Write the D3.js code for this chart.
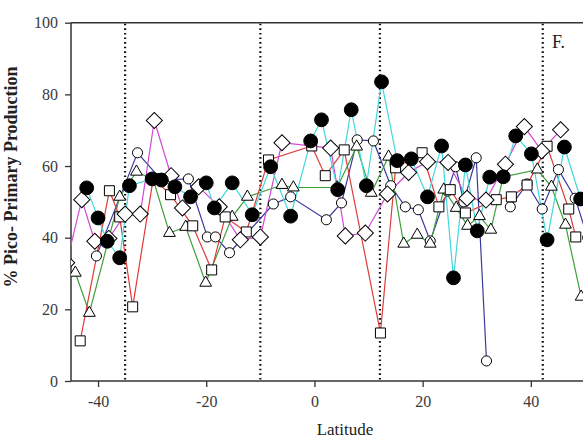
<!DOCTYPE html>
<html>
<head>
<meta charset="utf-8">
<script src="https://cdn.jsdelivr.net/npm/d3@7"></script>
<style>
  html, body { margin: 0; padding: 0; background: #fff; }
  svg { display: block; }
  text { font-family: "Liberation Serif", "Times New Roman", serif; }
</style>
</head>
<body>
<svg id="chart" width="583" height="439"></svg>
<script>
// Percent of primary production from picoplankton along the latitudinal transect.
// Each series: [latitude, % pico]; null marks a break in the line.
const filledCircles = [[-42.1,53.9],[-40,45.5],[-38.3,39],[-36,34.4],[-34.2,54.5],[-30,56.4],[-28.3,56.1],[-25.8,54.2],[-22.9,51.4],[-20,55.3],[-18.5,48.3],[-15.2,55.3],[-11.5,46.4],[-8.1,59.8],[-4.4,46],[-0.7,67],[1.3,72.9],[4.3,53.4],[6.8,75.7],[9.6,54.5],[12.4,83.5],[15.3,61.5],[17.9,62],[20.9,51.4],[23.5,65.6],[25.7,28.8],[27.9,60.3],[30.1,41.9],[32.4,56.9],[34.9,57],[37.2,68.4],[40.1,63.4],[43,39.4],[46.2,65.3],[49.2,50.8]];
const openDiamonds = [[-45.8,33],[-43,50.6],[-40.6,39],[-38,39.8],[-35,46.6],[-32.2,46.6],[-29.6,72.7],[-26.5,57.3],[-24.4,48.3],[-21.4,54.2],[-17.6,48.6],[-13.7,39.4],[-10,40.2],[-6,66.5],[3,65],[5.7,40.5],[9.4,41.3],[13.5,52.2],[17.4,58.2],[20.9,61.2],[24.7,61],[28.2,51],[31.7,50.5],[35.3,60.5],[38.8,71],[42,64.2],[45.5,70.1]];
const openSquares = [[-43.3,11.2],[-37.9,53.1],[-36,45.8],[-33.6,20.7],[-29.8,56.5],[-26.6,52],[-22.5,43.3],[-19,31],[-16.5,45.8],[-12.6,41.6],[-8.5,61.7],[-0.5,65.6],[2,57.3],[5.5,64.5],[12.2,13.4],[15,59.5],[19.9,63.7],[23,48.6],[25.1,53.4],[27.9,46.9],[33.6,50.6],[36.4,51.4],[39.3,54.7],[43,65.5],[47,48],[48.3,40.2]];
const openTriangles = [[-44.2,30.2],[-41.6,19],[-36,51.4],[-32.9,58.4],[-29.8,56.2],[-26.8,41.3],[-23.8,43],[-20.1,27.4],[-15.2,45.8],[-12.4,51.4],[-6,54.7],[-3.9,54],[4.2,54],[7.8,65.4],[10.5,52.5],[13.7,62.6],[16.5,38.3],[19,40.8],[21.4,38.3],[23.9,53.4],[26.2,48.3],[28.3,43.3],[30.5,46],[32.6,42.2],[34.9,57],[41.2,59],[43.8,54.2],[46.4,43.6],[49.3,23.5]];
const openCircles = [[-40.3,34.9],[-32.7,63.7],[-28.3,56.1],[-23.3,56.4],[-19.8,40.2],[-18.3,40.2],[-15.7,35.8],[-7.6,49.4],[-4.4,51.4],[2.2,45],[5,49.7],[7.9,67.3],[10.9,67],[14.1,54.5],[16.8,48.6],[19.2,47.8],[21.4,39.1],[24.6,53],[26.1,59.8],[27.6,50],[29.9,62.3],[31.8,5.6],null,[36.2,48.6],[39.3,55],[42.1,48],[45.1,59],[48.2,51],[50.5,40]];

// Frontal / province boundaries drawn as dotted verticals
const boundaries = [-35, -10, 12.1, 42.2];

const xTicks = [-40, -20, 0, 20, 40];
const yTicks = [0, 20, 40, 60, 80, 100];
const panelLabel = "F.";
const xTitle = "Latitude";
const yTitle = "% Pico- Primary Production";

const svg = d3.select("#chart");
const W = 583, H = 439;
const plotLeft = 71, plotTop = 22.7, plotBottom = 381;

const x = d3.scaleLinear().domain([-45, 50]).range([plotLeft, plotLeft + 95 * 5.41]);
const y = d3.scaleLinear().domain([0, 100]).range([plotBottom, plotTop]);

svg.append("defs").append("clipPath").attr("id", "plotClip")
  .append("rect").attr("x", plotLeft).attr("y", plotTop - 10)
  .attr("width", W - plotLeft + 20).attr("height", plotBottom - plotTop + 10);

// Axes
const axisColor = "#333";
const xAxis = svg.append("g").attr("transform", `translate(0,${plotBottom})`)
  .call(d3.axisBottom(x).tickValues(xTicks).tickSize(6).tickPadding(9).tickFormat(d3.format("d")));
const yAxis = svg.append("g").attr("transform", `translate(${plotLeft},0)`)
  .call(d3.axisLeft(y).tickValues(yTicks).tickSize(6).tickPadding(7));
[xAxis, yAxis].forEach(g => {
  g.select(".domain").remove();
  g.selectAll("line").attr("stroke", axisColor).attr("stroke-width", 1.3);
  g.selectAll("text").attr("fill", "#3a3a3a").style("font-size", "16px")
    .style("font-family", "'Liberation Serif', serif");
});
xAxis.selectAll("text").text(d => d < 0 ? "-" + Math.abs(d) : d);

// Frame: left, bottom and top lines (panel continues past the right edge)
svg.append("line").attr("x1", plotLeft).attr("x2", plotLeft).attr("y1", plotTop).attr("y2", plotBottom)
  .attr("stroke", axisColor).attr("stroke-width", 1.5);
svg.append("line").attr("x1", plotLeft).attr("x2", W).attr("y1", plotBottom).attr("y2", plotBottom)
  .attr("stroke", axisColor).attr("stroke-width", 1.5);
svg.append("line").attr("x1", plotLeft).attr("x2", W).attr("y1", plotTop).attr("y2", plotTop)
  .attr("stroke", axisColor).attr("stroke-width", 1.5);

// Dotted boundaries
svg.append("g").selectAll("line").data(boundaries).join("line")
  .attr("x1", d => x(d)).attr("x2", d => x(d))
  .attr("y1", plotTop + 1).attr("y2", plotBottom)
  .attr("stroke", "#111").attr("stroke-width", 2.2)
  .attr("stroke-dasharray", "1.6,3");

const plot = svg.append("g").attr("clip-path", "url(#plotClip)");

const series = [
  { data: openCircles,   color: "#3a3a9c", shape: "circle" },
  { data: openTriangles, color: "#3ca03c", shape: "triangle" },
  { data: openSquares,   color: "#e03a3a", shape: "square" },
  { data: openDiamonds,  color: "#d448d4", shape: "diamond" },
  { data: filledCircles, color: "#3fd8dc", shape: "filled" }
];

const line = d3.line().defined(d => d !== null).x(d => x(d[0])).y(d => y(d[1]));

series.forEach(s => {
  plot.append("path").datum(s.data).attr("d", line)
    .attr("fill", "none").attr("stroke", s.color).attr("stroke-width", 1.2);
});

const symbolGen = {
  circle:   d3.symbol().type(d3.symbolCircle).size(80),
  triangle: d3.symbol().type(d3.symbolTriangle).size(60),
  square:   d3.symbol().type(d3.symbolSquare).size(100),
  diamond:  d3.symbol().type(d3.symbolSquare).size(130),
  filled:   d3.symbol().type(d3.symbolCircle).size(150)
};

series.forEach(s => {
  plot.append("g").selectAll("path").data(s.data.filter(d => d !== null)).join("path")
    .attr("d", symbolGen[s.shape]())
    .attr("transform", d => `translate(${x(d[0])},${y(d[1])})` + (s.shape === "diamond" ? " rotate(45)" : ""))
    .attr("fill", s.shape === "filled" ? "#000" : "#fff")
    .attr("stroke", "#000")
    .attr("stroke-width", 1);
});

// Titles
svg.append("text").attr("x", 345).attr("y", 435)
  .attr("text-anchor", "middle").style("font-size", "17px").attr("fill", "#222")
  .text(xTitle);
svg.append("text").attr("transform", `translate(17,177) rotate(-90)`)
  .attr("text-anchor", "middle").style("font-size", "18px").style("font-weight", "bold")
  .attr("fill", "#222").text(yTitle);
svg.append("text").attr("x", 552).attr("y", 48).style("font-size", "18px").attr("fill", "#222")
  .text(panelLabel);
</script>
</body>
</html>
